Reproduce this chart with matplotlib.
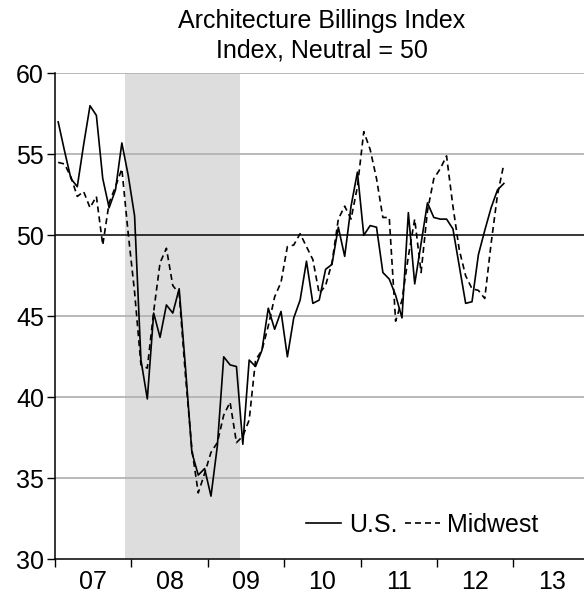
import matplotlib.pyplot as plt
import numpy as np

plt.rcParams['font.family'] = ['Liberation Sans', 'DejaVu Sans']

# monthly index values, Jan 2007 - Nov 2012
us = [57.0, 55.2, 53.5, 53.0, 55.6, 58.0, 57.4, 53.5, 51.7, 52.8, 55.7, 53.7,
      51.2, 42.3, 39.9, 45.2, 43.7, 45.7, 45.2, 46.7, 41.8, 36.6, 35.2, 35.6,
      33.9, 37.0, 42.5, 42.0, 41.9, 37.1, 42.3, 41.9, 42.9, 45.5, 44.2, 45.3,
      42.5, 44.9, 46.0, 48.4, 45.8, 46.0, 47.9, 48.2, 50.5, 48.7, 51.8, 53.9,
      50.0, 50.6, 50.5, 47.7, 47.3, 46.3, 44.9, 51.4, 47.0, 49.5, 52.0, 51.1,
      51.0, 51.0, 50.4, 48.1, 45.8, 45.9, 48.8, 50.3, 51.7, 52.8, 53.2]
midwest = [54.5, 54.4, 53.6, 52.4, 52.7, 51.7, 52.4, 49.4, 52.0, 53.0, 54.1, 50.1,
           46.5, 42.0, 41.8, 45.3, 48.3, 49.2, 46.9, 46.4, 41.3, 36.8, 34.1, 35.3,
           36.6, 37.2, 38.9, 39.7, 37.2, 37.6, 38.6, 42.3, 42.9, 44.4, 46.2, 47.1,
           49.3, 49.4, 50.1, 49.3, 48.5, 46.4, 46.9, 48.3, 51.0, 51.8, 51.0, 53.0,
           56.4, 55.3, 53.5, 51.1, 51.1, 44.7, 46.0, 48.7, 51.0, 47.7, 51.5, 53.5,
           54.1, 54.9, 51.8, 49.1, 47.5, 46.7, 46.6, 46.1, 49.5, 52.5, 54.4]
start_year = 2007
year_labels = ['07', '08', '09', '10', '11', '12', '13']
recession = (2007 + 11 / 12, 2009 + 5 / 12)

x = start_year + (np.arange(len(us)) + 0.5) / 12

fig = plt.figure(figsize=(5.84, 5.96), dpi=100)
ax = fig.add_axes([55 / 584, 36.7 / 596, 1 - 55 / 584, 486 / 596])

ax.axvspan(recession[0], recession[1], color='#dddddd', lw=0, zorder=0)
for v in [35, 40, 45, 55, 60]:
    ax.axhline(v, color='#b3b3b3', lw=1.3, zorder=1)
ax.axhline(50, color='black', lw=1.1, zorder=2)

ax.plot(x, us, color='black', lw=1.2, label='U.S.', zorder=3)
ax.plot(x, midwest, color='black', lw=1.2, dashes=(3.6, 2.4), label='Midwest', zorder=3)

ax.set_xlim(start_year, start_year + 529 / 76.4)
ax.set_ylim(30, 60)
ax.set_yticks([30, 35, 40, 45, 50, 55, 60])
ax.set_xticks(np.arange(start_year, start_year + 7))
ax.set_xticklabels([])
ax.set_xticks(np.arange(start_year, start_year + 7) + 0.5, minor=True)
ax.set_xticklabels(year_labels, minor=True)
ax.tick_params(axis='x', which='major', direction='out', length=6, width=1)
ax.tick_params(axis='x', which='minor', length=0, labelsize=18, pad=8)
ax.tick_params(axis='y', direction='out', length=6, width=1, labelsize=18, pad=2)

for s in ['top', 'right']:
    ax.spines[s].set_visible(False)
ax.spines['left'].set_linewidth(1.1)
ax.spines['bottom'].set_linewidth(1.1)

fig.text(322 / 584, 1 - 36 / 596, 'Architecture Billings Index\nIndex, Neutral = 50',
         ha='center', va='center', fontsize=18, linespacing=1.3)

ax.legend(loc='center', bbox_to_anchor=(422.5 / 584, 1 - 525 / 596),
          bbox_transform=fig.transFigure, ncol=2, frameon=False, fontsize=18,
          handlelength=1.4, handletextpad=0.3, columnspacing=0.3)

plt.savefig('out.png', dpi=100)
